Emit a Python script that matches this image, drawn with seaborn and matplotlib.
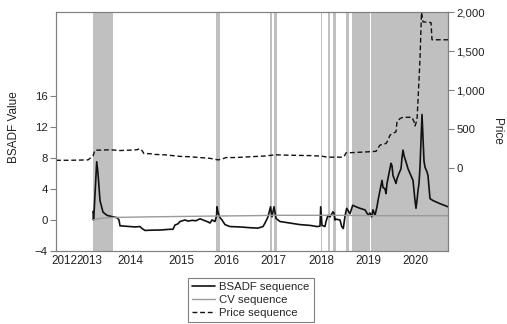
import numpy as np
import pandas as pd
import matplotlib
matplotlib.use("Agg")
import matplotlib.pyplot as plt
from matplotlib.ticker import FuncFormatter
import seaborn as sns

# ---- data (x = observation index along the sample) ----
year_labels = ["2012", "2013", "2014", "2015", "2016", "2017", "2018", "2019", "2020"]
year_pos = [8, 33, 74, 125, 170, 217, 265, 312, 359]

price_t = [0, 14, 32, 35, 37, 39, 44, 54, 64, 74, 81, 84, 86, 88, 94, 99, 109, 124, 134, 144,
           154, 162, 166, 170, 179, 194, 209, 219, 234, 254, 266, 271, 285, 288, 290, 299, 311,
           320, 324, 327, 330, 332, 334, 337, 340, 341, 344, 347, 356, 358, 359, 361, 362,
           364, 365.5, 367, 375, 376, 392]
price_v = [105, 105, 110, 140, 160, 235, 235, 240, 230, 235, 240, 255, 230, 190, 190, 180, 175,
           155, 150, 140, 130, 110, 120, 140, 140, 150, 160, 175, 170, 165, 158, 145, 145, 150,
           200, 205, 213, 220, 300, 310, 320, 360, 428, 450, 470, 600, 640, 656, 656, 600, 545,
           620, 870, 1400, 2000, 1880, 1870, 1650, 1650]

bsadf_t = [37, 37.5, 38, 40.7, 42, 44, 47, 51, 54, 57, 61, 63, 64, 74, 79, 84, 86, 89, 99, 104,
           109, 114, 117, 119, 122, 124, 129, 132, 136, 140, 144, 149, 152, 154, 156, 159, 160.5,
           161, 162, 163, 164, 166, 169, 174, 184, 194, 202, 207, 209, 212, 214.5, 216, 218,
           220, 224, 234, 244, 254, 261, 264, 264.7, 266, 269, 270, 272, 274, 277, 278, 279, 280,
           284, 285.7, 287.3, 289, 290.7, 294, 296.7, 300, 304, 309, 312.3, 314, 315.7, 317, 319,
           321, 322, 324, 326, 327, 328, 329, 330, 331, 333, 335, 336, 337, 338, 340, 341, 343,
           345, 346, 347, 348, 350, 352, 355, 357, 358, 359, 360, 361, 362, 363, 364, 365, 366,
           367, 368, 369, 371, 372, 373, 374, 377, 384, 392]
bsadf_v = [1.1, 0.0, 0.8, 7.5, 6.0, 2.5, 1.0, 0.6, 0.5, 0.4, 0.3, 0.0, -0.75, -0.85, -0.9,
           -0.85, -1.1, -1.35, -1.3, -1.3, -1.25, -1.2, -1.2, -0.65, -0.5, -0.2, 0.0, -0.15,
           -0.05, -0.1, 0.15, -0.1, -0.25, -0.4, 0.0, -0.2, 0.5, 1.7, 1.0, 0.6, 0.3, 0.0, -0.6,
           -0.85, -0.9, -1.0, -1.05, -0.85, -0.4, 0.4, 1.7, 0.4, 1.7, 0.2, -0.2, -0.4, -0.6,
           -0.7, -0.85, -0.8, 1.7, -0.7, -0.85, -0.2, 0.6, 0.4, 1.05, 0.9, 0.0, 0.1, 0.0, -0.85,
           -1.1, 0.5, 1.5, 0.8, 1.9, 1.7, 1.5, 1.3, 0.6, 0.9, 0.4, 1.3, 0.6, 1.7, 2.5, 3.8, 5.1,
           4.2, 4.1, 4.0, 3.4, 4.7, 6.0, 7.3, 7.0, 5.7, 5.4, 4.7, 5.3, 6.0, 6.6, 8.0, 9.0, 8.3,
           7.5, 6.6, 5.7, 5.1, 3.8, 2.5, 1.5, 2.5, 3.8, 4.7, 6.8, 10.2, 13.6, 10.6, 7.6, 6.8,
           6.2, 5.7, 4.2, 2.75, 2.5, 2.1, 1.7]

cv_t = [37, 44, 54, 69, 94, 124, 154, 194, 224, 274, 324, 392]
cv_v = [0.0, 0.2, 0.3, 0.35, 0.4, 0.45, 0.5, 0.55, 0.6, 0.6, 0.55, 0.55]

band_start = [36.7, 160.5, 214, 218.3, 265, 272.3, 277.3, 289.7, 295.7, 315]
band_end = [57.3, 164, 216.3, 220.7, 266, 274, 280.3, 293.3, 314, 392]

# ---- figure ----
sns.set_style("white")
plt.rcParams["font.family"] = ["Liberation Sans", "DejaVu Sans"]

fig = plt.figure(figsize=(5.07, 3.24), dpi=100)
ax = fig.add_axes([56 / 507, 1 - 251 / 324, 392 / 507, 239 / 324])
ax2 = ax.twinx()

for s, e in zip(band_start, band_end):
    ax.axvspan(s, e, color="#c0c0c0", lw=0, zorder=0)

sns.lineplot(x=bsadf_t, y=bsadf_v, ax=ax, color="#111111", lw=1.2,
             estimator=None, sort=False, label="BSADF sequence", legend=False)
sns.lineplot(x=cv_t, y=cv_v, ax=ax, color="#9a9a9a", lw=1.0,
             estimator=None, sort=False, label="CV sequence", legend=False)
sns.lineplot(x=price_t, y=price_v, ax=ax2, color="#111111", lw=1.0,
             estimator=None, sort=False, label="Price sequence", legend=False)
ax2.lines[0].set_dashes((3.5, 2))

ax.set_xlim(0, 392)
ax.set_ylim(-4, 26.8)
ax2.set_ylim(-1058, 2006)

ax.set_xticks(year_pos)
ax.set_xticklabels(year_labels)
ax.set_yticks([-4, 0, 4, 8, 12, 16])
ax2.set_yticks([0, 500, 1000, 1500, 2000])
ax2.yaxis.set_major_formatter(FuncFormatter(lambda v, p: f"{v:,.0f}"))

ax.tick_params(axis="x", length=0, pad=3, labelsize=8.4, colors="#222222")
ax.tick_params(axis="y", length=4, width=0.8, color="#808080", pad=2, labelsize=8.2,
               labelcolor="#222222", left=True)
ax2.tick_params(axis="y", length=4, width=0.8, color="#808080", pad=2, labelsize=8.2,
                labelcolor="#222222", right=True)

for a in (ax, ax2):
    for sp in a.spines.values():
        sp.set_color("#808080")
        sp.set_linewidth(0.8)

ax.set_xlabel("")
ax.set_ylabel("BSADF Value", fontsize=8.5, color="#222222", ha="center", va="center")
ax.yaxis.set_label_coords(-0.107, 0.52)
ax2.set_ylabel("Price", fontsize=8.5, color="#222222", rotation=270, ha="center", va="center")
ax2.yaxis.set_label_coords(1.125, 0.5)

handles = ax.get_lines()[:2] + ax2.get_lines()[:1]
labels = ["BSADF sequence", "CV sequence", "Price sequence"]
leg = fig.legend(handles, labels, loc="upper left", bbox_to_anchor=(188 / 507, 1 - 278 / 324),
                 fontsize=8.2, frameon=True, fancybox=False, framealpha=1, edgecolor="#808080",
                 handlelength=2.0, handletextpad=0.4, borderpad=0.35, labelspacing=0.25,
                 borderaxespad=0)
leg.get_frame().set_linewidth(0.8)

fig.savefig("out.png", dpi=100)
